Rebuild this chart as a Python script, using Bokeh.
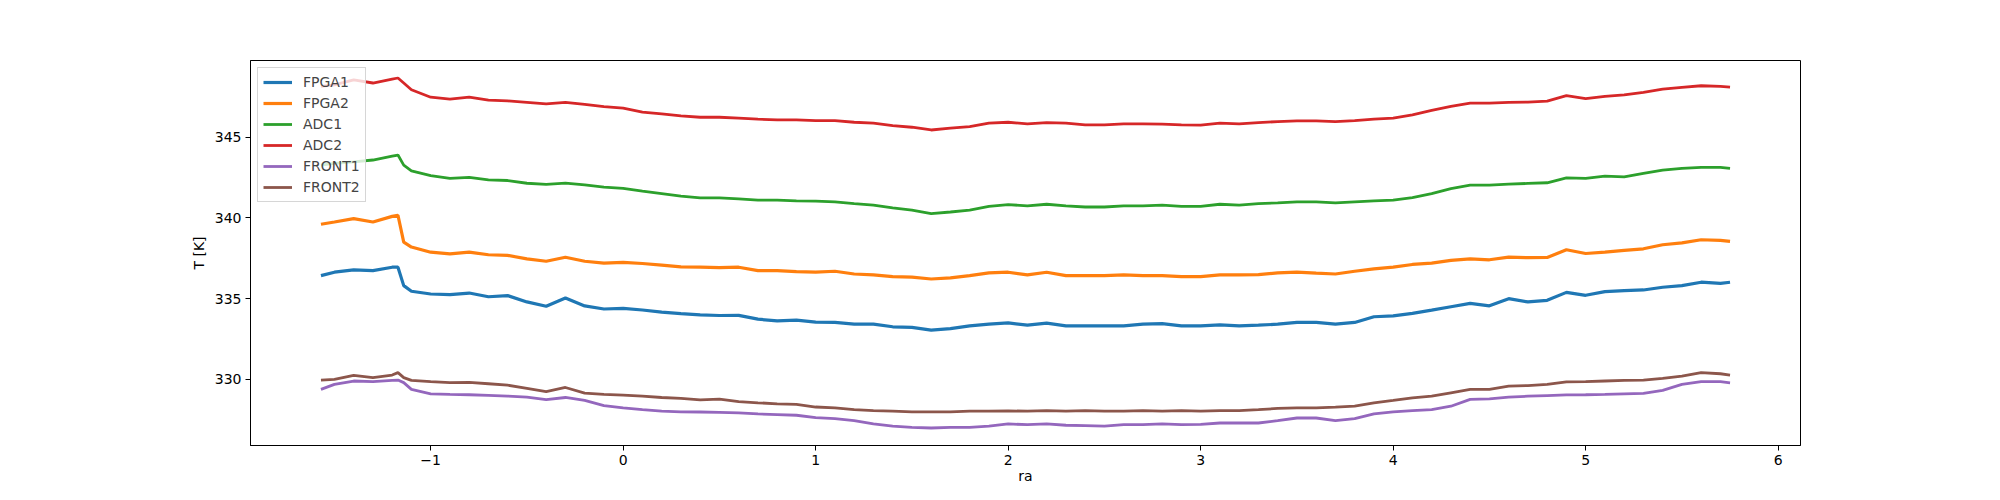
from bokeh.plotting import figure
from bokeh.models import Range1d, FixedTicker, Legend, LegendItem
from bokeh.embed import file_html
from bokeh.resources import INLINE

# sample positions along "ra"
ra = [-1.57, -1.5, -1.4, -1.3, -1.2, -1.17, -1.14, -1.1,
      -1.0, -0.9, -0.8, -0.7, -0.6, -0.5, -0.4, -0.3, -0.2, -0.1,
      0.0, 0.1, 0.2, 0.3, 0.4, 0.5, 0.6, 0.7, 0.8, 0.9,
      1.0, 1.1, 1.2, 1.3, 1.4, 1.5, 1.6, 1.7, 1.8, 1.9,
      2.0, 2.1, 2.2, 2.3, 2.4, 2.5, 2.6, 2.7, 2.8, 2.9,
      3.0, 3.1, 3.2, 3.3, 3.4, 3.5, 3.6, 3.7, 3.8, 3.9,
      4.0, 4.1, 4.2, 4.3, 4.4, 4.5, 4.6, 4.7, 4.8, 4.9,
      5.0, 5.1, 5.2, 5.3, 5.4, 5.5, 5.6, 5.7, 5.75]

fpga1 = [336.43, 336.64, 336.79, 336.74, 336.95, 336.95, 335.81, 335.46,
         335.29, 335.25, 335.35, 335.12, 335.19, 334.80, 334.53, 335.04, 334.55, 334.36,
         334.40, 334.30, 334.17, 334.08, 334.00, 333.96, 333.97, 333.73, 333.63, 333.67,
         333.55, 333.53, 333.42, 333.42, 333.26, 333.22, 333.05, 333.15, 333.32, 333.42,
         333.50, 333.36, 333.49, 333.32, 333.32, 333.32, 333.32, 333.42, 333.46, 333.32,
         333.32, 333.38, 333.32, 333.36, 333.42, 333.53, 333.53, 333.42, 333.53, 333.88,
         333.94, 334.09, 334.29, 334.50, 334.71, 334.56, 335.00, 334.80, 334.90, 335.39,
         335.21, 335.44, 335.50, 335.54, 335.71, 335.81, 336.02, 335.95, 336.02]

fpga2 = [339.61, 339.75, 339.96, 339.75, 340.10, 340.17, 338.50, 338.20,
         337.88, 337.78, 337.88, 337.72, 337.68, 337.47, 337.32, 337.57, 337.32, 337.20,
         337.25, 337.18, 337.08, 336.97, 336.95, 336.92, 336.95, 336.74, 336.74, 336.68,
         336.64, 336.70, 336.53, 336.47, 336.37, 336.33, 336.22, 336.29, 336.43, 336.60,
         336.64, 336.47, 336.64, 336.43, 336.43, 336.43, 336.47, 336.43, 336.43, 336.37,
         336.37, 336.47, 336.47, 336.49, 336.60, 336.64, 336.58, 336.53, 336.70, 336.85,
         336.95, 337.12, 337.20, 337.37, 337.47, 337.41, 337.57, 337.54, 337.55, 338.03,
         337.80, 337.88, 337.99, 338.09, 338.34, 338.46, 338.65, 338.61, 338.55]

adc1 = [343.27, 343.38, 343.48, 343.59, 343.83, 343.90, 343.27, 342.92,
        342.62, 342.45, 342.51, 342.36, 342.32, 342.15, 342.08, 342.16, 342.05, 341.91,
        341.83, 341.66, 341.51, 341.35, 341.24, 341.24, 341.18, 341.10, 341.10, 341.06,
        341.04, 341.00, 340.89, 340.79, 340.62, 340.48, 340.27, 340.37, 340.48, 340.72,
        340.83, 340.75, 340.85, 340.75, 340.68, 340.68, 340.75, 340.75, 340.79, 340.72,
        340.72, 340.85, 340.79, 340.89, 340.93, 341.00, 341.00, 340.93, 341.00, 341.06,
        341.10, 341.26, 341.51, 341.82, 342.03, 342.03, 342.10, 342.14, 342.18, 342.48,
        342.45, 342.59, 342.55, 342.76, 342.97, 343.07, 343.13, 343.13, 343.07]

adc2 = [348.15, 348.25, 348.56, 348.36, 348.60, 348.67, 348.36, 347.94,
        347.48, 347.36, 347.49, 347.30, 347.25, 347.16, 347.07, 347.16, 347.04, 346.90,
        346.80, 346.56, 346.45, 346.32, 346.24, 346.24, 346.18, 346.12, 346.08, 346.08,
        346.03, 346.03, 345.93, 345.87, 345.72, 345.62, 345.45, 345.56, 345.66, 345.87,
        345.93, 345.83, 345.91, 345.87, 345.77, 345.77, 345.83, 345.83, 345.81, 345.77,
        345.75, 345.87, 345.83, 345.91, 345.97, 346.01, 346.01, 345.97, 346.03, 346.12,
        346.18, 346.39, 346.66, 346.91, 347.11, 347.11, 347.16, 347.18, 347.24, 347.58,
        347.39, 347.53, 347.63, 347.78, 347.98, 348.09, 348.19, 348.15, 348.11]

front1 = [329.38, 329.69, 329.90, 329.86, 329.94, 329.96, 329.80, 329.38,
          329.11, 329.07, 329.05, 329.01, 328.97, 328.90, 328.75, 328.88, 328.70, 328.38,
          328.24, 328.13, 328.03, 327.99, 327.98, 327.96, 327.93, 327.86, 327.82, 327.78,
          327.63, 327.57, 327.45, 327.24, 327.10, 327.03, 326.99, 327.03, 327.03, 327.10,
          327.24, 327.20, 327.24, 327.16, 327.14, 327.10, 327.20, 327.20, 327.24, 327.20,
          327.22, 327.30, 327.30, 327.30, 327.45, 327.61, 327.61, 327.45, 327.57, 327.86,
          327.99, 328.07, 328.13, 328.34, 328.76, 328.80, 328.90, 328.96, 329.00, 329.04,
          329.05, 329.07, 329.11, 329.13, 329.32, 329.69, 329.86, 329.86, 329.79]

front2 = [329.96, 330.00, 330.25, 330.11, 330.27, 330.42, 330.11, 329.94,
          329.86, 329.80, 329.82, 329.73, 329.64, 329.45, 329.24, 329.50, 329.15, 329.07,
          329.03, 328.96, 328.88, 328.82, 328.73, 328.78, 328.62, 328.55, 328.49, 328.45,
          328.29, 328.24, 328.13, 328.07, 328.03, 327.99, 327.99, 327.99, 328.03, 328.03,
          328.05, 328.03, 328.07, 328.03, 328.07, 328.03, 328.03, 328.07, 328.03, 328.07,
          328.03, 328.07, 328.07, 328.13, 328.20, 328.24, 328.24, 328.28, 328.34, 328.55,
          328.70, 328.86, 328.96, 329.17, 329.38, 329.38, 329.59, 329.62, 329.69, 329.85,
          329.86, 329.90, 329.94, 329.96, 330.06, 330.21, 330.42, 330.35, 330.27]

names = ["FPGA1", "FPGA2", "ADC1", "ADC2", "FRONT1", "FRONT2"]
series = [fpga1, fpga2, adc1, adc2, front1, front2]
colors = ["#1f77b4", "#ff7f0e", "#2ca02c", "#d62728", "#9467bd", "#8c564b"]
widths = [3.2, 3.2, 2.8, 2.8, 2.8, 2.8]
x_ticks = [-1, 0, 1, 2, 3, 4, 5, 6]
y_ticks = [330, 335, 340, 345]

# matplotlib-style 5% margins
xmin, xmax = min(ra), max(ra)
ymin = min(min(s) for s in series)
ymax = max(max(s) for s in series)
xpad = 0.05 * (xmax - xmin)
ypad = 0.05 * (ymax - ymin)

FONT = "DejaVu Sans"

p = figure(frame_width=1550, frame_height=385,
           min_border_left=250, min_border_right=184,
           min_border_top=60, min_border_bottom=39,
           x_range=Range1d(xmin - xpad, xmax + xpad),
           y_range=Range1d(ymin - ypad, ymax + ypad),
           output_backend="svg", toolbar_location=None)

items = []
for name, s, c, w in zip(names, series, colors, widths):
    r = p.line(ra, s, line_color=c, line_width=w)
    items.append(LegendItem(label=name, renderers=[r]))

p.xgrid.visible = False
p.ygrid.visible = False
p.outline_line_color = "black"
p.outline_line_width = 1
p.outline_line_alpha = 1

p.xaxis.ticker = FixedTicker(ticks=x_ticks)
p.xaxis.major_label_overrides = {-1: "\u22121"}
p.yaxis.ticker = FixedTicker(ticks=y_ticks)
p.xaxis.axis_label = "ra"
p.yaxis.axis_label = "T [K]"

for ax in (p.xaxis[0], p.yaxis[0]):
    ax.axis_line_color = "black"
    ax.major_tick_line_color = "black"
    ax.major_tick_in = 0
    ax.major_tick_out = 5
    ax.minor_tick_line_color = None
    ax.major_label_text_font = FONT
    ax.major_label_text_font_size = "14px"
    ax.major_label_text_color = "black"
    ax.major_label_standoff = 4
    ax.axis_label_text_font = FONT
    ax.axis_label_text_font_size = "14px"
    ax.axis_label_text_font_style = "normal"
    ax.axis_label_text_color = "black"
p.xaxis.axis_label_standoff = 0
p.yaxis.axis_label_standoff = 5

legend = Legend(items=items, location="top_left",
                label_text_font=FONT, label_text_font_size="14px",
                glyph_width=29, glyph_height=18, label_height=18,
                spacing=3, padding=5, margin=7, label_standoff=11,
                border_line_color="#cccccc", border_line_alpha=0.8,
                border_line_width=1,
                background_fill_color="white", background_fill_alpha=0.8)
p.add_layout(legend)

open("out.html", "w").write(file_html(p, INLINE))
